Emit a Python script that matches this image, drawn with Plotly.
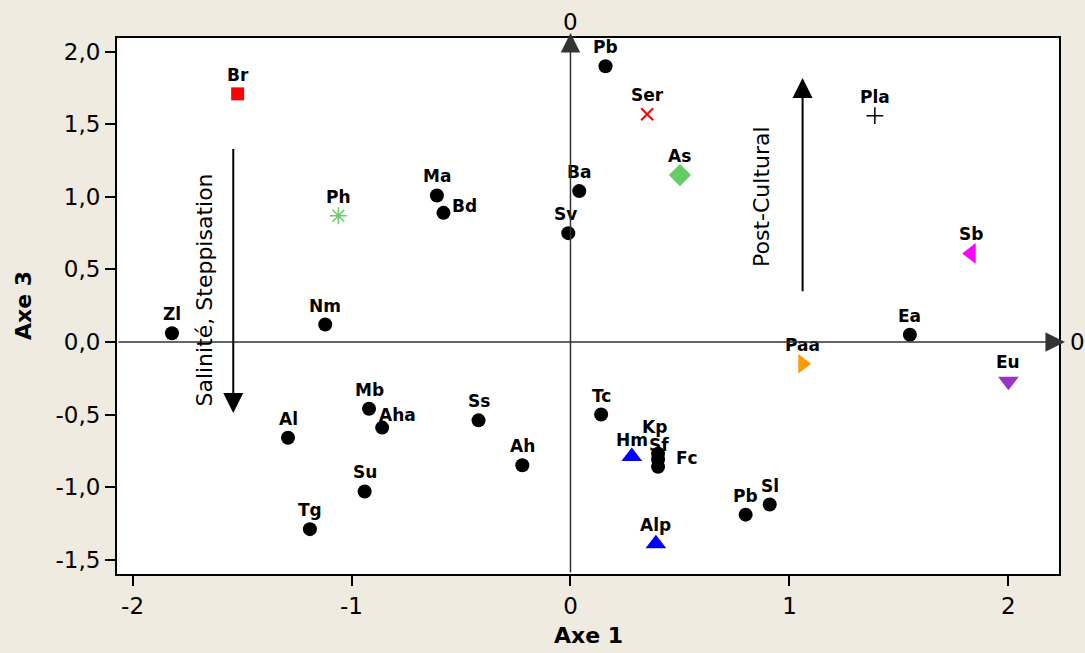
import plotly.graph_objects as go

# --- data (Axe 1 vs Axe 3) ---
names = ["Br", "Ph", "Zl", "Nm", "Ma", "Bd", "Pb", "Ser", "As", "Ba", "Sv",
         "Pla", "Sb", "Ea", "Paa", "Eu", "Al", "Mb", "Aha", "Su", "Tg", "Ss",
         "Ah", "Tc", "Hm", "Kp", "Sf", "Fc", "Alp", "Pb", "Sl"]
axe1 = [-1.52, -1.06, -1.82, -1.12, -0.61, -0.58, 0.16, 0.35, 0.50, 0.04, -0.01,
        1.39, 1.83, 1.55, 1.06, 2.00, -1.29, -0.92, -0.86, -0.94, -1.19, -0.42,
        -0.22, 0.14, 0.28, 0.40, 0.40, 0.40, 0.39, 0.80, 0.91]
axe3 = [1.71, 0.87, 0.06, 0.12, 1.01, 0.89, 1.90, 1.57, 1.15, 1.04, 0.75,
        1.56, 0.61, 0.05, -0.15, -0.27, -0.66, -0.46, -0.59, -1.03, -1.29, -0.54,
        -0.85, -0.50, -0.79, -0.77, -0.81, -0.86, -1.39, -1.19, -1.12]
groups = ["Br", "Ph", "dot", "dot", "dot", "dot", "dot", "Ser", "As", "dot", "dot",
          "Pla", "Sb", "dot", "Paa", "Eu", "dot", "dot", "dot", "dot", "dot", "dot",
          "dot", "dot", "blue", "dot", "dot", "dot", "blue", "dot", "dot"]

x_ticks = [-2, -1, 0, 1, 2]
x_ticktext = ["-2", "-1", "0", "1", "2"]
y_ticks = [-1.5, -1.0, -0.5, 0.0, 0.5, 1.0, 1.5, 2.0]
y_ticktext = ["-1,5", "-1,0", "-0,5", "0,0", "0,5", "1,0", "1,5", "2,0"]

# interpretation arrows: (x, tail y, head y)
salinite_arrow = (-1.54, 1.34, -0.49)
cultural_arrow = (1.06, 0.34, 1.82)

XR = [-2.071, 2.231]
YR = [-1.599, 2.095]

styles = {
    "dot":  dict(symbol="circle", size=14, color="black"),
    "Br":   dict(symbol="square", size=13, color="#FF0000"),
    "Ph":   dict(symbol="asterisk-open", size=14, color="#66CC66", line=dict(width=1.5, color="#66CC66")),
    "Ser":  dict(symbol="x-thin-open", size=12, color="#FF0000", line=dict(width=2, color="#FF0000")),
    "As":   dict(symbol="diamond", size=17, color="#66CC66"),
    "Pla":  dict(symbol="cross-thin-open", size=12, color="black", line=dict(width=1.5, color="black")),
    "Sb":   dict(symbol="triangle-left", size=18, color="#FF00FF"),
    "Paa":  dict(symbol="triangle-right", size=17, color="#FF9900"),
    "Eu":   dict(symbol="triangle-down", size=18, color="#9933CC"),
    "blue": dict(symbol="triangle-up", size=18, color="#0000FF"),
}

# label offsets in px (dx, dy up); default is centred above the marker
label_shift = {"Bd": (21, 7), "Sv": (-3, 19), "Aha": (15, 13), "Kp": (-4, 27),
               "Sf": (1, 15), "Fc": (29, 9), "Hm": (0, 17)}

fig = go.Figure()
for g, st in styles.items():
    idx = [i for i, gg in enumerate(groups) if gg == g]
    fig.add_trace(go.Scatter(
        x=[axe1[i] for i in idx], y=[axe3[i] for i in idx],
        mode="markers", marker=st, showlegend=False, cliponaxis=False,
    ))

ann = []
for n, xv, yv in zip(names, axe1, axe3):
    dx, dy = label_shift.get(n, (0, 19))
    ann.append(dict(x=xv, y=yv, text=n, showarrow=False, xshift=dx, yshift=dy,
                    font=dict(family="DejaVu Sans", size=17, color="black", weight="bold")))

# axis lines through the origin, with arrowheads
ann.append(dict(x=0, y=2.13, ax=0, ay=YR[0], xref="x", yref="y", axref="x", ayref="y",
                text="", showarrow=True, arrowhead=2, arrowsize=2.6, arrowwidth=1.5, arrowcolor="#333333"))
ann.append(dict(x=2.258, y=0, ax=XR[0], ay=0, xref="x", yref="y", axref="x", ayref="y",
                text="", showarrow=True, arrowhead=2, arrowsize=2.6, arrowwidth=1.5, arrowcolor="#333333"))
ann.append(dict(x=0, y=1, xref="x", yref="paper", yanchor="bottom", yshift=1, text="0",
                showarrow=False, font=dict(size=23)))
ann.append(dict(x=1, y=0, xref="paper", yref="y", xanchor="left", xshift=9, text="0",
                showarrow=False, font=dict(size=23)))

# interpretation arrows
for (xa, y0, y1) in (salinite_arrow, cultural_arrow):
    ann.append(dict(x=xa, y=y1, ax=xa, ay=y0, xref="x", yref="y", axref="x", ayref="y",
                    text="", showarrow=True, arrowhead=2, arrowsize=2, arrowwidth=2, arrowcolor="black"))
ann.append(dict(x=-1.67, y=0.36, text="Salinité, Steppisation", textangle=-90, showarrow=False,
                font=dict(size=22)))
ann.append(dict(x=0.875, y=1.0, text="Post-Cultural", textangle=-90, showarrow=False,
                font=dict(size=22)))

# axis titles
ann.append(dict(x=0.5, y=0, xref="paper", yref="paper", xanchor="center", yanchor="middle",
                yshift=-61, text="Axe 1", showarrow=False, font=dict(size=22, weight="bold")))
ann.append(dict(x=0, y=0.5, xref="paper", yref="paper", xanchor="center", yanchor="middle",
                xshift=-94, text="Axe 3", textangle=-90, showarrow=False,
                font=dict(size=22, weight="bold")))

fig.update_layout(
    width=1085, height=653,
    margin=dict(l=117, r=26, t=38, b=79),
    paper_bgcolor="#EFEBE1", plot_bgcolor="white",
    font=dict(family="DejaVu Sans", color="black", size=23),
    annotations=ann,
)
fig.update_xaxes(range=XR, tickvals=x_ticks, ticktext=x_ticktext, showgrid=False, zeroline=False,
                 showline=True, mirror=True, linecolor="black", linewidth=2,
                 ticks="outside", ticklen=10, tickwidth=1.5, tickcolor="black")
fig.update_yaxes(range=YR, tickvals=y_ticks, ticktext=y_ticktext, showgrid=False, zeroline=False,
                 showline=True, mirror=True, linecolor="black", linewidth=2,
                 ticks="outside", ticklen=10, tickwidth=1.5, tickcolor="black")

fig.write_html("out.html", config={"displayModeBar": False},
               post_script="document.body.style.margin='0';")
